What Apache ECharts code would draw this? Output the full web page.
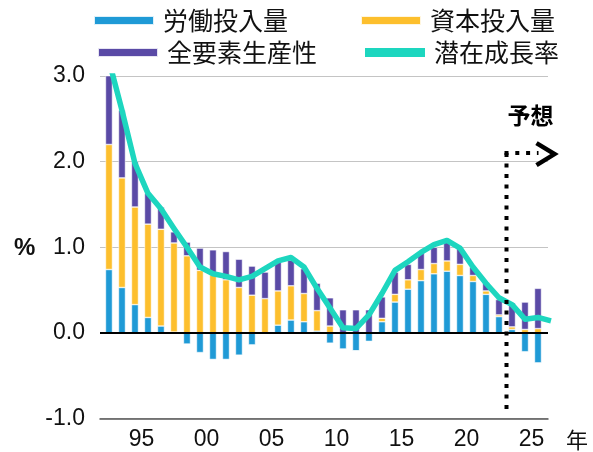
<!DOCTYPE html>
<html><head><meta charset="utf-8">
<script src="https://cdn.jsdelivr.net/npm/echarts@6/dist/echarts.min.js"></script>
<style>html,body{margin:0;padding:0;background:#fff}#c{width:593px;height:452px}</style>
</head><body><div id="c"></div>
<script>
// ---- data ----
const years = [1993,1994,1995,1996,1997,1998,1999,2000,2001,2002,2003,2004,2005,2006,2007,2008,2009,2010,2011,2012,2013,2014,2015,2016,2017,2018,2019,2020,2021,2022,2023,2024,2025,2026,2027];
const labor = [0.74,0.53,0.33,0.18,0.08,0.01,-0.13,-0.23,-0.31,-0.31,-0.26,-0.14,-0.01,0.09,0.15,0.13,0.02,-0.12,-0.19,-0.21,-0.10,0.13,0.36,0.51,0.61,0.69,0.72,0.67,0.60,0.45,0.19,0.04,-0.22,-0.35,null];
const capital = [1.46,1.28,1.14,1.09,1.13,1.04,0.90,0.73,0.68,0.62,0.53,0.44,0.40,0.40,0.40,0.33,0.24,0.08,0.00,0.00,0.00,0.04,0.09,0.11,0.13,0.12,0.12,0.13,0.07,0.04,0.02,0.03,0.04,0.05,null];
const tfp = [0.98,0.79,0.53,0.36,0.26,0.13,0.16,0.26,0.29,0.33,0.33,0.34,0.31,0.34,0.30,0.29,0.32,0.33,0.27,0.27,0.27,0.25,0.26,0.18,0.20,0.19,0.22,0.19,0.10,0.10,0.18,0.28,0.32,0.47,null];
const potential = [3.18,2.60,1.98,1.63,1.45,1.22,1.00,0.77,0.69,0.66,0.62,0.66,0.75,0.84,0.88,0.77,0.52,0.29,0.06,0.05,0.21,0.46,0.73,0.83,0.94,1.03,1.08,0.99,0.77,0.58,0.41,0.33,0.16,0.18,0.14];
const seriesNames = ['労働投入量','資本投入量','全要素生産性','潜在成長率'];
const xTickYears = [1995,2000,2005,2010,2015,2020,2025];
const xTickLabels = ['95','00','05','10','15','20','25'];
const yMin = -1, yMax = 3, yInterval = 1;
const xMin = 1992.31, xMax = 2026.77;
const forecastStart = 2023.55;
const forecastLabel = '予想';
const unitLabel = '%';
const yearUnit = '年';

const colors = ['#1f9ad6','#fdbf2d','#5a4aa6','#1dd6bf'];
const cjk = '"Noto Sans CJK JP", sans-serif';
const latin = '"Liberation Sans", Arial, sans-serif';

const chart = echarts.init(document.getElementById('c'), null, {renderer:'canvas'});

function barSeries(name, vals, color){
  return {
    name: name, type: 'bar', stack: 'total', barWidth: 7,
    data: years.map((y,i)=>[vals[i], y]),
    encode: {x: 1, y: 0},
    itemStyle: {color: color, borderColor: 'rgba(255,255,255,0.85)', borderWidth: 0.6},
    z: 2, clip: true, animation: false
  };
}

function legendAt(name, left, top){
  return {
    data: [name], left: left, top: top, padding: 0, orient: 'horizontal',
    icon: 'rect', itemWidth: 60, itemHeight: 9, selectedMode: false,
    textStyle: {fontSize: 25, fontFamily: cjk, color: '#111', padding: [0,0,0,4]}
  };
}

const option = {
  animation: false,
  color: colors,
  grid: {left: 100, right: 45, top: 76, bottom: 33.5, containLabel: false},
  legend: [
    legendAt(seriesNames[0], 93, 8),
    legendAt(seriesNames[1], 360, 8),
    legendAt(seriesNames[2], 97, 40),
    legendAt(seriesNames[3], 365, 40)
  ],
  xAxis: {
    type: 'value', min: xMin, max: xMax,
    axisLine: {show: true, onZero: false, lineStyle: {color: '#555', width: 1.5}},
    axisTick: {show: false},
    splitLine: {show: false},
    axisLabel: {
      customValues: xTickYears.map(y=>y+0.5),
      formatter: function(v){ const i = xTickYears.indexOf(Math.round(v-0.5)); return i>=0 ? xTickLabels[i] : ''; },
      fontSize: 23, fontFamily: latin, color: '#111', margin: 10
    }
  },
  yAxis: {
    type: 'value', min: yMin, max: yMax, interval: yInterval,
    axisLine: {show: false}, axisTick: {show: false},
    splitLine: {show: true, lineStyle: {color: '#c4c4c4', width: 1.2}},
    axisLabel: {formatter: v=>v.toFixed(1), fontSize: 23, fontFamily: latin, color: '#111', margin: 15}
  },
  series: [
    barSeries(seriesNames[0], labor, colors[0]),
    barSeries(seriesNames[1], capital, colors[1]),
    barSeries(seriesNames[2], tfp, colors[2]),
    {
      name: seriesNames[3], type: 'line', data: years.map((y,i)=>[y, potential[i]]),
      symbol: 'none', showSymbol: false, clip: true,
      lineStyle: {color: colors[3], width: 5.5, join: 'round'},
      itemStyle: {color: colors[3]},
      z: 4,
      markLine: {
        silent: true, symbol: 'none', label: {show: false},
        lineStyle: {color: '#000', width: 2, type: 'solid'},
        data: [{yAxis: 0}], animation: false
      }
    }
  ]
};
chart.setOption(option);

const topPt = chart.convertToPixel({gridIndex: 0}, [forecastStart, 2.1]);
const botPt = chart.convertToPixel({gridIndex: 0}, [forecastStart, yMin]);
const fx = Math.round(topPt[0]) + 0.5, fy = topPt[1];
chart.setOption({
  graphic: [
    {type: 'line', z: 100, shape: {x1: fx, y1: fy, x2: fx, y2: botPt[1]-3},
      style: {stroke: '#000', lineWidth: 4, lineDash: [4, 6.5], lineCap: 'butt'}},
    {type: 'line', z: 100, shape: {x1: fx-2, y1: fy, x2: fx+32, y2: fy},
      style: {stroke: '#000', lineWidth: 4, lineDash: [4, 6.8], lineCap: 'butt'}},
    {type: 'polyline', z: 100, shape: {points: [[fx+30, fy-10], [fx+48, fy+1], [fx+30, fy+12]]},
      style: {stroke: '#000', fill: null, lineWidth: 4.5, lineJoin: 'miter'}},
    {type: 'text', z: 100, x: fx+24, y: fy-38,
      style: {text: forecastLabel, fontSize: 23, fontWeight: 'bold', fontFamily: cjk, fill: '#000', align: 'center', verticalAlign: 'middle'}},
    {type: 'text', z: 100, x: 14, y: 248,
      style: {text: unitLabel, fontSize: 24, fontWeight: 'bold', fontFamily: latin, fill: '#111', align: 'left', verticalAlign: 'middle'}},
    {type: 'text', z: 100, x: 577, y: 440,
      style: {text: yearUnit, fontSize: 22, fontFamily: cjk, fill: '#111', align: 'center', verticalAlign: 'middle'}}
  ]
});
</script>
</body></html>
